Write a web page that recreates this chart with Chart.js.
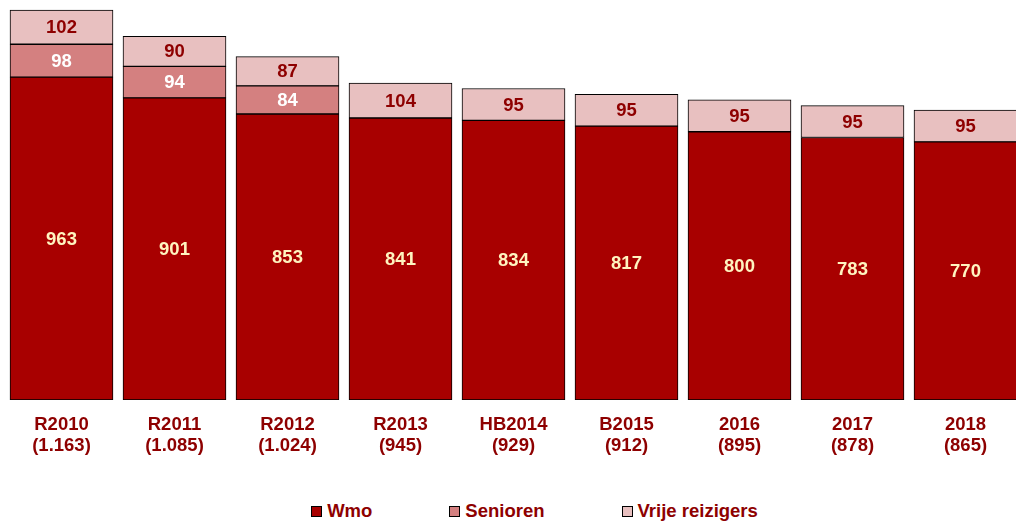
<!DOCTYPE html>
<html>
<head>
<meta charset="utf-8">
<script src="https://cdn.jsdelivr.net/npm/chart.js@4"></script>
<style>
    html, body { margin: 0; padding: 0; background: #fff; overflow: hidden; }
    #wrap { position: relative; width: 1016px; height: 522px; overflow: hidden; }
    #chart { position: absolute; left: 0; top: 0; }
    #legend {
        position: absolute; left: 0; top: 500px; width: 1069px; height: 22px;
        display: flex; justify-content: center; align-items: center; gap: 77px;
        font: bold 18.5px "Liberation Sans", Arial, sans-serif; color: #8E0000;
    }
    #legend .item { display: flex; align-items: center; }
    #legend .box { width: 11px; height: 11px; box-sizing: border-box; border: 1px solid #000; margin-right: 5px; }
</style>
</head>
<body>
<div id="wrap">
    <canvas id="chart" width="1030" height="472"></canvas>
    <div id="legend"></div>
</div>
<script>
// Data
const categories = ['R2010', 'R2011', 'R2012', 'R2013', 'HB2014', 'B2015', '2016', '2017', '2018'];
const wmo = [963, 901, 853, 841, 834, 817, 800, 783, 770];
const senioren = [98, 94, 84, null, null, null, null, null, null];
const vrijeReizigers = [102, 90, 87, 104, 95, 95, 95, 95, 95];

const seriesNames = ['Wmo', 'Senioren', 'Vrije reizigers'];
const seriesColors = ['#A80000', '#D48080', '#E8C0C0'];
const labelColors = ['#FFF4C0', '#FFFFFF', '#8E0000'];

// Totaal per jaar, met punt als duizendtal-scheiding
function formatTotal(n) {
    const s = String(n);
    return s.length > 3 ? s.slice(0, -3) + '.' + s.slice(-3) : s;
}

const xLabels = categories.map((c, i) => {
    const total = wmo[i] + (senioren[i] || 0) + (vrijeReizigers[i] || 0);
    return [c, '(' + formatTotal(total) + ')'];
});

const font = { family: '"Liberation Sans", Arial, sans-serif', size: 18.5, weight: 'bold', lineHeight: 1.135 };

// Waarden midden in elk segment tekenen
const segmentLabels = {
    id: 'segmentLabels',
    afterDatasetsDraw(chart) {
        const ctx = chart.ctx;
        ctx.save();
        ctx.font = `bold ${font.size}px ${font.family}`;
        ctx.textAlign = 'center';
        ctx.textBaseline = 'middle';
        chart.data.datasets.forEach((ds, di) => {
            const meta = chart.getDatasetMeta(di);
            ctx.fillStyle = labelColors[di];
            meta.data.forEach((el, i) => {
                const v = ds.data[i];
                if (v === null || v === undefined) return;
                const { x, y, base } = el.getProps(['x', 'y', 'base'], true);
                ctx.fillText(String(v), x, (y + base) / 2 + 1);
            });
        });
        ctx.restore();
    }
};

const datasets = [wmo, senioren, vrijeReizigers].map((data, i) => ({
    label: seriesNames[i],
    data: data,
    backgroundColor: seriesColors[i],
    borderColor: '#000000',
    borderWidth: 1,
    borderSkipped: false,
    barThickness: 103
}));

const chart = new Chart(document.getElementById('chart').getContext('2d'), {
    type: 'bar',
    data: { labels: xLabels, datasets: datasets },
    options: {
        responsive: false,
        animation: false,
        layout: { padding: { top: 1, left: 5, right: 8, bottom: 1 } },
        plugins: {
            legend: { display: false },
            tooltip: { enabled: false }
        },
        scales: {
            x: {
                stacked: true,
                grid: { display: false, drawTicks: false },
                border: { display: false },
                ticks: { color: '#8E0000', font: font, padding: 14.5, maxRotation: 0, autoSkip: false }
            },
            y: {
                stacked: true,
                display: false,
                min: 0,
                max: 1190
            }
        }
    },
    plugins: [segmentLabels]
});

// Legenda onder de grafiek
const legendEl = document.getElementById('legend');
chart.data.datasets.forEach(ds => {
    const item = document.createElement('div');
    item.className = 'item';
    const box = document.createElement('span');
    box.className = 'box';
    box.style.background = ds.backgroundColor;
    const text = document.createElement('span');
    text.textContent = ds.label;
    item.appendChild(box);
    item.appendChild(text);
    legendEl.appendChild(item);
});
</script>
</body>
</html>
